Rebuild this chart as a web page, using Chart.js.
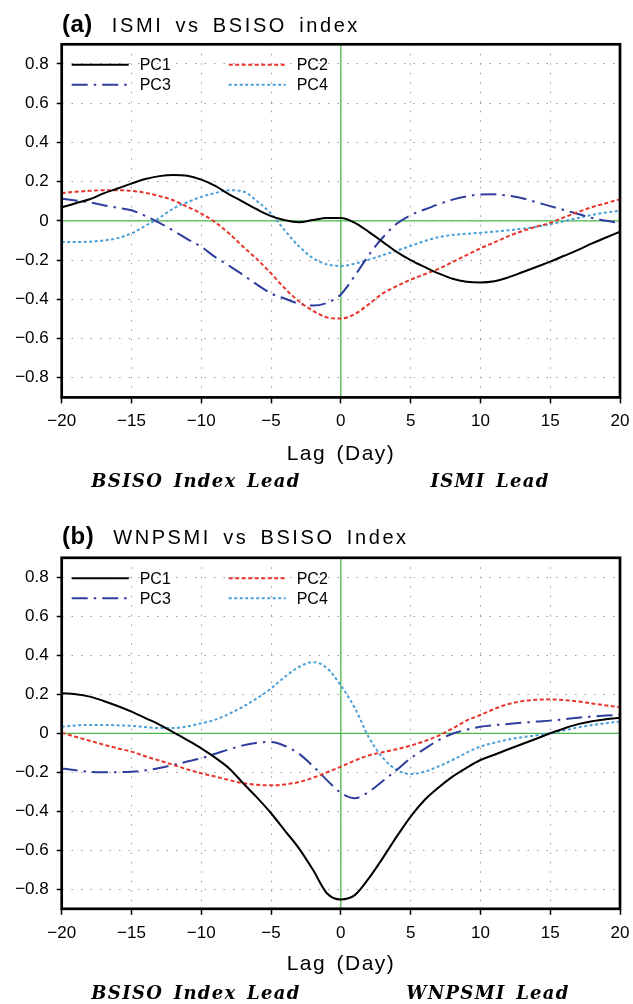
<!DOCTYPE html>
<html><head><meta charset="utf-8">
<script src="https://cdn.jsdelivr.net/npm/chart.js@4"></script>
<style>
body{margin:0;background:#fff;}
#wrap{position:relative;width:633px;height:1004px;overflow:hidden;font-family:"Liberation Sans",Arial,sans-serif;color:#000;}
canvas{position:absolute;left:0;}
.title{position:absolute;left:62px;font-size:20px;line-height:26px;letter-spacing:2.6px;word-spacing:4px;white-space:nowrap;}
.title b{font-size:24px;letter-spacing:0.5px;margin-right:19px;}
.xlab{position:absolute;left:241px;width:200px;text-align:center;font-size:21px;line-height:21px;letter-spacing:1.5px;word-spacing:3px;white-space:nowrap;}
.lead{position:absolute;width:300px;text-align:center;font-family:"DejaVu Serif",serif;font-weight:bold;font-style:italic;font-size:18px;line-height:20px;letter-spacing:1.3px;word-spacing:3px;white-space:nowrap;}
</style>
</head><body>
<div id="wrap">
<canvas id="ca" width="633" height="505" style="top:0;width:633px;height:505px"></canvas>
<canvas id="cb" width="633" height="499" style="top:505px;width:633px;height:499px"></canvas>
<div class="title" style="top:11px"><b>(a)</b>ISMI vs BSISO index</div>
<div class="title" style="top:523px"><b>(b)</b>WNPSMI vs BSISO Index</div>
<div class="xlab" style="top:442px">Lag (Day)</div>
<div class="xlab" style="top:952px">Lag (Day)</div>
<div class="lead" style="left:46px;top:471px">BSISO Index Lead</div>
<div class="lead" style="left:340px;top:471px">ISMI Lead</div>
<div class="lead" style="left:46px;top:983px">BSISO Index Lead</div>
<div class="lead" style="left:338px;top:983px">WNPSMI Lead</div>
</div>
<script>
// ---- data ----
const lags = [-20,-19,-18,-17,-16,-15,-14,-13,-12,-11,-10,-9,-8,-7,-6,-5,-4,-3,-2,-1,0,1,2,3,4,5,6,7,8,9,10,11,12,13,14,15,16,17,18,19,20];
const seriesNames = ['PC1','PC2','PC3','PC4'];

// (a) ISMI vs BSISO index
const ismiPC1 = [0.068,0.09,0.11,0.14,0.165,0.19,0.213,0.228,0.234,0.23,0.21,0.178,0.135,0.097,0.058,0.024,0.003,-0.007,0.004,0.014,0.014,-0.01,-0.056,-0.107,-0.158,-0.2,-0.235,-0.268,-0.295,-0.31,-0.314,-0.308,-0.288,-0.262,-0.235,-0.208,-0.178,-0.148,-0.115,-0.085,-0.055];
const ismiPC2 = [0.142,0.148,0.153,0.156,0.156,0.153,0.143,0.126,0.105,0.072,0.037,-0.007,-0.065,-0.132,-0.196,-0.268,-0.345,-0.41,-0.458,-0.492,-0.498,-0.475,-0.425,-0.37,-0.333,-0.3,-0.272,-0.245,-0.21,-0.175,-0.14,-0.11,-0.078,-0.052,-0.03,-0.01,0.018,0.045,0.07,0.09,0.11];
const ismiPC3 = [0.113,0.104,0.094,0.08,0.067,0.054,0.025,-0.01,-0.05,-0.093,-0.132,-0.185,-0.23,-0.276,-0.325,-0.37,-0.397,-0.422,-0.432,-0.418,-0.375,-0.28,-0.175,-0.085,-0.015,0.029,0.058,0.085,0.108,0.125,0.134,0.135,0.128,0.115,0.095,0.075,0.055,0.035,0.015,0.0,-0.01];
const ismiPC4 = [-0.108,-0.108,-0.106,-0.1,-0.088,-0.064,-0.025,0.015,0.063,0.095,0.122,0.142,0.156,0.15,0.1,0.037,-0.05,-0.13,-0.19,-0.222,-0.23,-0.218,-0.198,-0.175,-0.152,-0.128,-0.103,-0.083,-0.072,-0.066,-0.061,-0.055,-0.048,-0.04,-0.03,-0.017,-0.002,0.015,0.03,0.042,0.052];

// (b) WNPSMI vs BSISO Index
const wnpPC1 = [0.205,0.2,0.188,0.166,0.14,0.111,0.078,0.045,0.005,-0.035,-0.077,-0.125,-0.18,-0.256,-0.33,-0.41,-0.5,-0.59,-0.7,-0.82,-0.852,-0.83,-0.744,-0.64,-0.53,-0.427,-0.342,-0.278,-0.222,-0.177,-0.137,-0.11,-0.082,-0.055,-0.028,0.0,0.025,0.047,0.062,0.072,0.08];
const wnpPC2 = [0.003,-0.018,-0.038,-0.058,-0.077,-0.094,-0.118,-0.14,-0.162,-0.185,-0.205,-0.222,-0.24,-0.256,-0.264,-0.267,-0.262,-0.25,-0.228,-0.2,-0.171,-0.14,-0.113,-0.097,-0.082,-0.063,-0.04,-0.012,0.025,0.065,0.094,0.125,0.15,0.165,0.172,0.174,0.17,0.163,0.153,0.143,0.133];
const wnpPC3 = [-0.18,-0.19,-0.198,-0.2,-0.199,-0.197,-0.19,-0.178,-0.162,-0.145,-0.128,-0.105,-0.082,-0.062,-0.048,-0.045,-0.065,-0.105,-0.168,-0.24,-0.305,-0.333,-0.3,-0.245,-0.188,-0.128,-0.08,-0.035,-0.002,0.018,0.034,0.042,0.048,0.054,0.06,0.065,0.072,0.08,0.086,0.091,0.095];
const wnpPC4 = [0.034,0.04,0.043,0.043,0.041,0.038,0.032,0.027,0.027,0.035,0.051,0.07,0.1,0.137,0.18,0.23,0.29,0.34,0.365,0.335,0.245,0.13,-0.02,-0.125,-0.188,-0.209,-0.197,-0.17,-0.137,-0.1,-0.068,-0.048,-0.032,-0.02,-0.01,0.0,0.015,0.03,0.042,0.052,0.06];

// ticks
const xTicks = [-20,-15,-10,-5,0,5,10,15,20];
const xTickLabels = ['\u221220','\u221215','\u221210','\u22125','0','5','10','15','20'];
const yTicks = [-0.8,-0.6,-0.4,-0.2,0,0.2,0.4,0.6,0.8];
const yTickLabels = ['\u22120.8','\u22120.6','\u22120.4','\u22120.2','0','0.2','0.4','0.6','0.8'];

// ---- styles ----
const styles = [
  {borderColor:'#000000', borderWidth:2, borderDash:[]},
  {borderColor:'#e8352b', borderWidth:2, borderDash:[4,2.5]},
  {borderColor:'#2f3d9e', borderWidth:2, borderDash:[16,6,2.5,6]},
  {borderColor:'#4a9fd8', borderWidth:2, borderDash:[3,2.5]}
];

const innerLegend = {
  id:'innerLegend',
  afterDatasetsDraw(chart){
    const {ctx, chartArea:a} = chart;
    chart.data.datasets.forEach((ds,i)=>{
      const col = i%2, row = Math.floor(i/2);
      const x0 = a.left + 10 + col*157, y = a.top + 20.5 + row*20;
      ctx.save();
      ctx.strokeStyle = ds.borderColor; ctx.lineWidth = ds.borderWidth;
      ctx.setLineDash(ds.borderDash||[]);
      ctx.beginPath(); ctx.moveTo(x0,y); ctx.lineTo(x0+57,y); ctx.stroke();
      ctx.setLineDash([]);
      ctx.fillStyle='#000'; ctx.font='16px "Liberation Sans", Arial, sans-serif';
      ctx.textBaseline='middle'; ctx.textAlign='left';
      ctx.fillText(ds.label, x0+68, y+1);
      ctx.restore();
    });
  }
};
const zeroLines = {
  id:'zeroLines',
  beforeDatasetsDraw(chart){
    const {ctx, chartArea:a, scales:{x,y}} = chart;
    ctx.save();
    ctx.strokeStyle='#4cb84c'; ctx.lineWidth=1.3;
    const py = y.getPixelForValue(0), px = x.getPixelForValue(0);
    ctx.beginPath();
    ctx.moveTo(a.left,py); ctx.lineTo(a.right,py);
    ctx.moveTo(px,a.top); ctx.lineTo(px,a.bottom);
    ctx.stroke();
    ctx.restore();
  }
};
const frame = {
  id:'frame',
  afterDraw(chart){
    const {ctx, chartArea:a} = chart;
    ctx.save();
    ctx.strokeStyle='#000'; ctx.lineWidth=2.7;
    ctx.strokeRect(a.left, a.top, a.right-a.left, a.bottom-a.top);
    ctx.restore();
  }
};

function makeChart(id, seriesList, canvasH, areaTop, areaBottom){
  const datasets = seriesList.map((vals,i)=>({
    label: seriesNames[i],
    data: lags.map((l,k)=>({x:l, y:vals[k]})),
    borderColor: styles[i].borderColor,
    borderWidth: styles[i].borderWidth,
    borderDash: styles[i].borderDash,
    pointRadius:0,
    fill:false,
    cubicInterpolationMode:'monotone'
  }));
  const tickFont = {family:'"Liberation Sans", Arial, sans-serif', size:17};
  return new Chart(document.getElementById(id), {
    type:'line',
    data:{datasets},
    options:{
      responsive:false, animation:false, devicePixelRatio:1,
      layout:{padding:{left:0, right:13, top:areaTop, bottom:canvasH-areaBottom-40}},
      plugins:{legend:{display:false}, tooltip:{enabled:false}, title:{display:false}},
      scales:{
        x:{type:'linear', min:-20, max:20,
          afterBuildTicks:s=>{ s.ticks = xTicks.map(v=>({value:v})); },
          afterFit:s=>{ s.height = 40; s.paddingLeft = 0; s.paddingRight = 0; },
          ticks:{font:tickFont, color:'#000', padding:8, maxRotation:0, autoSkip:false,
            callback:(v)=>xTickLabels[xTicks.indexOf(v)]},
          grid:{color:'#9a9a9a', lineWidth:1, drawTicks:true, tickLength:6, tickColor:'#000', tickWidth:1.5, tickBorderDash:[]},
          border:{display:false, dash:[1.5,8]}
        },
        y:{type:'linear', min:-0.9, max:0.9,
          afterBuildTicks:s=>{ s.ticks = yTicks.map(v=>({value:v})); },
          afterFit:s=>{ s.width = 61.7; s.paddingTop = 0; s.paddingBottom = 0; },
          ticks:{font:tickFont, color:'#000', padding:8, autoSkip:false,
            callback:(v)=>yTickLabels[yTicks.findIndex(t=>Math.abs(t-v)<1e-9)]},
          grid:{color:'#9a9a9a', lineWidth:1, drawTicks:true, tickLength:5, tickColor:'#000', tickWidth:1.5, tickBorderDash:[]},
          border:{display:false, dash:[1.5,8]}
        }
      }
    },
    plugins:[zeroLines, innerLegend, frame]
  });
}
makeChart('ca', [ismiPC1, ismiPC2, ismiPC3, ismiPC4], 505, 44.3, 397.4);
makeChart('cb', [wnpPC1, wnpPC2, wnpPC3, wnpPC4], 499, 52.8, 403.8);
</script>
</body></html>
